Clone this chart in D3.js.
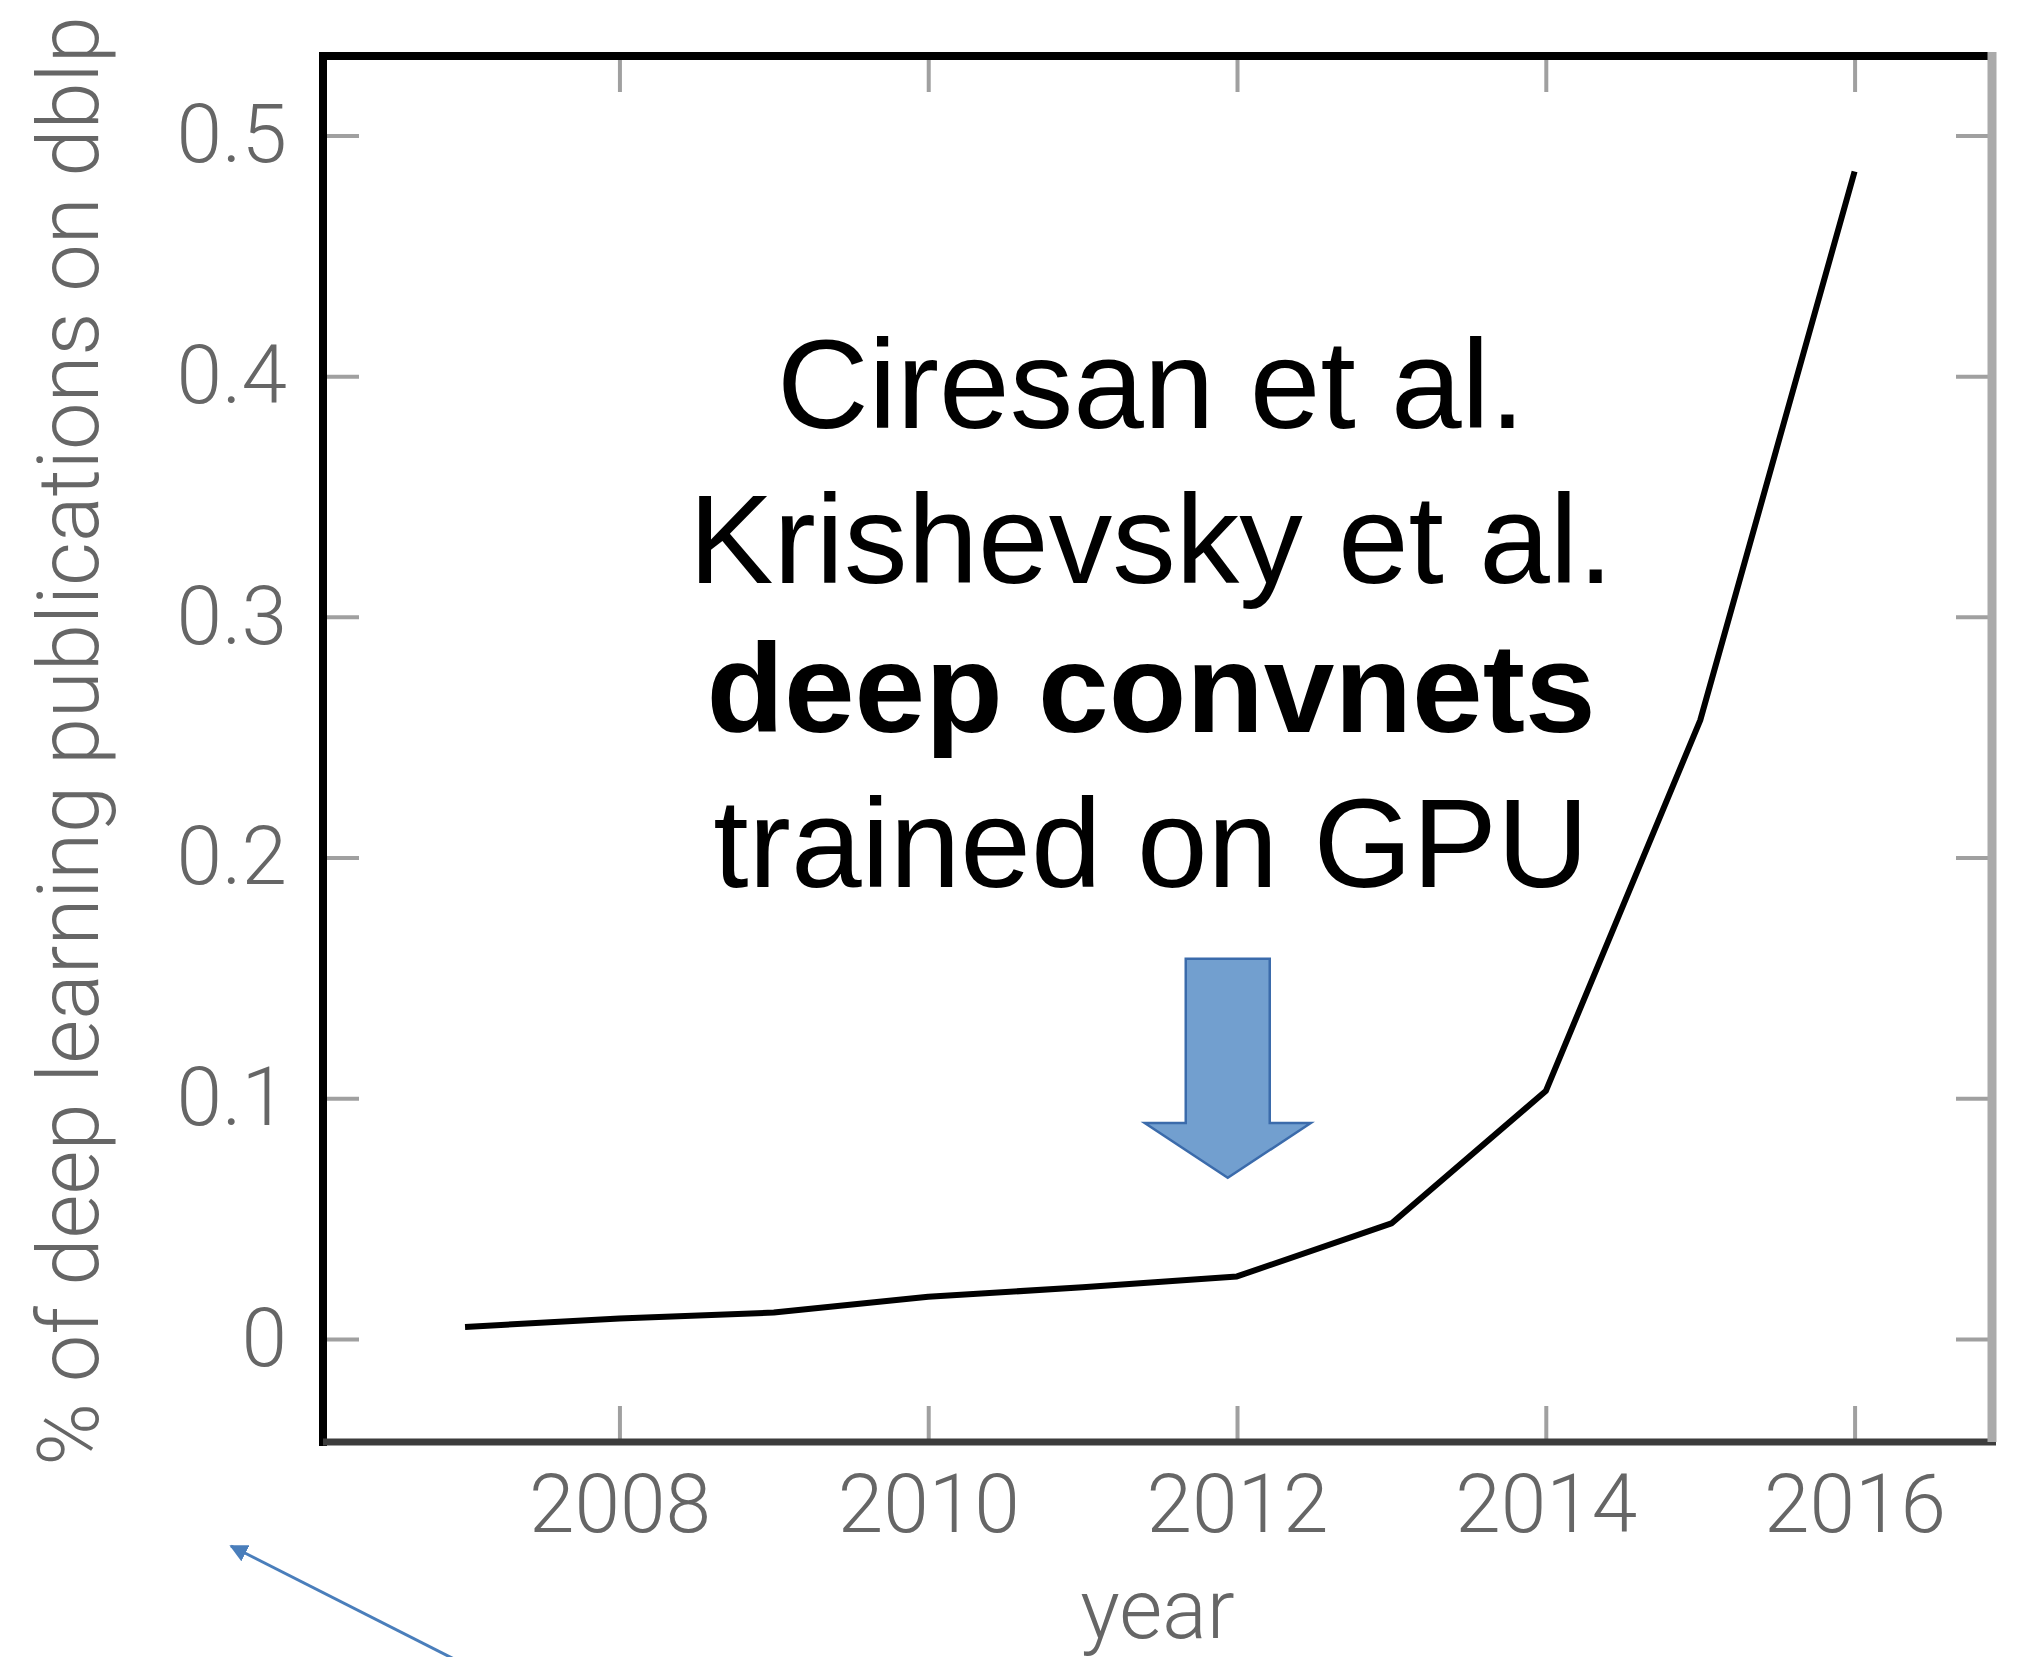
<!DOCTYPE html>
<html>
<head>
<meta charset="utf-8">
<script src="https://cdn.jsdelivr.net/npm/d3@7"></script>
<style>
  body { margin: 0; background: #ffffff; }
  .tick-label { font-family: "Roboto", "Liberation Sans", sans-serif; font-weight: 300; fill: #666; }
</style>
</head>
<body>
<div id="chart"></div>
<script>
// values
const years = [2007, 2008, 2009, 2010, 2011, 2012, 2013, 2014, 2015, 2016];
const share = [0.005, 0.0085, 0.011, 0.0175, 0.0215, 0.026, 0.048, 0.103, 0.257, 0.485];
const xTicks = [2008, 2010, 2012, 2014, 2016];
const yTicks = [0, 0.1, 0.2, 0.3, 0.4, 0.5];
const noteLines = ["Ciresan et al.", "Krishevsky et al.", "deep convnets", "trained on GPU"];
const noteBold = [false, false, true, false];

class Chart {
  constructor(chart_id = "chart", params = {}) {
    this.params = params;
    this.width = this.checkParam("width", 2021);
    this.height = this.checkParam("height", 1657);
    this.box = this.checkParam("box", {left: 323, right: 1992, top: 56, bottom: 1442});

    this.svg = d3.select(`#${chart_id}`).append("svg")
      .attr("width", this.width)
      .attr("height", this.height)
      .style("background-color", "white");

    this.x = d3.scaleLinear().domain([2006.08, 2016.89]).range([this.box.left, this.box.right]);
    this.y = d3.scaleLinear().domain([-0.0428, 0.533]).range([this.box.bottom, this.box.top]);
  }

  checkParam(param_name, value) {
    return this.params.hasOwnProperty(param_name) ? this.params[param_name] : value;
  }

  draw() {
    this.drawAxes();
    this.drawFrame();
    this.drawLine();
    this.drawNote();
    this.drawBlockArrow();
    this.drawSideArrow();
  }

  drawAxes() {
    const fmtY = d => d === 0 ? "0" : d3.format(".1f")(d);
    const axes = [
      {axis: d3.axisLeft(this.y).tickValues(yTicks).tickFormat(fmtY).tickPadding(36), tr: `translate(${this.box.left},0)`},
      {axis: d3.axisRight(this.y).tickValues(yTicks).tickFormat(""), tr: `translate(${this.box.right},0)`},
      {axis: d3.axisBottom(this.x).tickValues(xTicks).tickFormat(d3.format("d")).tickPadding(32), tr: `translate(0,${this.box.bottom})`},
      {axis: d3.axisTop(this.x).tickValues(xTicks).tickFormat(""), tr: `translate(0,${this.box.top})`},
    ];
    axes.forEach(a => {
      const g = this.svg.append("g")
        .attr("transform", a.tr)
        .call(a.axis.tickSizeInner(-36).tickSizeOuter(0));
      g.select(".domain").remove();
      g.selectAll(".tick line").attr("stroke", "#a0a0a0").attr("stroke-width", 4);
      g.selectAll(".tick text").attr("class", "tick-label").attr("font-size", 82);
    });

    this.svg.append("text")
      .attr("class", "tick-label")
      .attr("font-size", 85)
      .attr("text-anchor", "middle")
      .attr("transform", `translate(98,741) rotate(-90)`)
      .text("% of deep learning publications on dblp");

    this.svg.append("text")
      .attr("class", "tick-label")
      .attr("font-size", 83)
      .attr("text-anchor", "middle")
      .attr("x", (this.box.left + this.box.right) / 2)
      .attr("y", 1638)
      .text("year");
  }

  drawFrame() {
    const b = this.box;
    const sides = [
      {x1: b.left - 4, y1: b.top, x2: b.right, y2: b.top, c: "#000", w: 8},
      {x1: b.left, y1: b.top, x2: b.left, y2: b.bottom + 4, c: "#000", w: 8},
      {x1: b.left, y1: b.bottom, x2: b.right + 4, y2: b.bottom, c: "#3c3c3c", w: 7},
      {x1: b.right, y1: b.top - 4, x2: b.right, y2: b.bottom, c: "#aaaaaa", w: 9},
    ];
    this.svg.selectAll("line.frame").data(sides).enter()
      .append("line")
      .classed("frame", true)
      .attr("x1", d => d.x1).attr("y1", d => d.y1)
      .attr("x2", d => d.x2).attr("y2", d => d.y2)
      .attr("stroke", d => d.c)
      .attr("stroke-width", d => d.w);
  }

  drawLine() {
    const line = d3.line()
      .x((d, i) => this.x(years[i]))
      .y(d => this.y(d));
    this.svg.append("path")
      .datum(share)
      .attr("d", line)
      .attr("fill", "none")
      .attr("stroke", "#000")
      .attr("stroke-width", 6)
      .attr("stroke-linejoin", "round");
  }

  drawNote() {
    const cx = 1151;
    const baselines = [428, 583, 732, 887];
    this.svg.selectAll("text.note").data(noteLines).enter()
      .append("text")
      .classed("note", true)
      .attr("x", cx)
      .attr("y", (d, i) => baselines[i])
      .attr("text-anchor", "middle")
      .attr("font-family", "'Liberation Sans', Arial, sans-serif")
      .attr("font-size", 127)
      .attr("font-weight", (d, i) => noteBold[i] ? "bold" : "normal")
      .attr("fill", "#000")
      .text(d => d);
  }

  drawBlockArrow() {
    const cx = this.x(2011.94);
    const top = this.y(0.158), shoulder = this.y(0.0897), tip = this.y(0.067);
    const shaft = 42, head = 83;
    const pts = [
      [cx - shaft, top], [cx + shaft, top], [cx + shaft, shoulder], [cx + head, shoulder],
      [cx, tip], [cx - head, shoulder], [cx - shaft, shoulder]
    ];
    this.svg.append("polygon")
      .attr("points", pts.map(p => p.join(",")).join(" "))
      .attr("fill", "#729fcf")
      .attr("stroke", "#3b6bab")
      .attr("stroke-width", 2.5)
      .attr("stroke-linejoin", "miter");
  }

  drawSideArrow() {
    this.svg.append("defs").append("marker")
      .attr("id", "head")
      .attr("viewBox", "0 0 10 10")
      .attr("refX", 9).attr("refY", 5)
      .attr("markerUnits", "userSpaceOnUse")
      .attr("markerWidth", 18).attr("markerHeight", 18)
      .attr("orient", "auto")
      .append("path")
      .attr("d", "M0,0 L10,5 L0,10 z")
      .attr("fill", "#4a7ebb");

    this.svg.append("line")
      .attr("x1", 456).attr("y1", 1660)
      .attr("x2", 231).attr("y2", 1546)
      .attr("stroke", "#4a7ebb")
      .attr("stroke-width", 3)
      .attr("marker-end", "url(#head)");
  }
}

new Chart("chart").draw();
</script>
</body>
</html>
